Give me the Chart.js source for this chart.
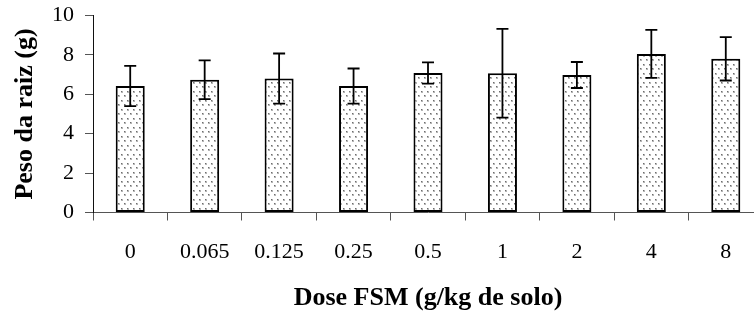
<!DOCTYPE html>
<html>
<head>
<meta charset="utf-8">
<script src="https://cdn.jsdelivr.net/npm/chart.js@4/dist/chart.umd.min.js"></script>
<style>
  html, body { margin: 0; padding: 0; background: #fff; overflow: hidden; width: 754px; height: 320px; }
  canvas { display: block; }
</style>
</head>
<body>
<canvas id="c" width="766" height="320"></canvas>
<script>
// ---- data ----
const categories = ['0', '0.065', '0.125', '0.25', '0.5', '1', '2', '4', '8'];
const rootWeight = [6.42, 6.74, 6.8, 6.42, 7.08, 7.07, 6.98, 8.05, 7.8];
const stdError   = [1.02, 0.98, 1.27, 0.89, 0.54, 2.25, 0.66, 1.22, 1.1];
const yTicks     = [0, 2, 4, 6, 8, 10];
const xTitle = 'Dose FSM (g/kg de solo)';
const yTitle = 'Peso da raiz (g)';

// dotted fill pattern
function makePattern() {
  const t = document.createElement('canvas');
  t.width = 6; t.height = 9;
  const g = t.getContext('2d');
  g.fillStyle = '#fff';
  g.fillRect(0, 0, 6, 9);
  g.fillStyle = 'rgba(120,120,120,0.55)';
  g.fillRect(1, 1, 2, 2);
  g.fillRect(4, 5, 2, 2);
  g.fillStyle = 'rgba(90,90,90,0.8)';
  g.fillRect(1, 1, 1, 1);
  g.fillRect(4, 5, 1, 1);
  return document.getElementById('c').getContext('2d').createPattern(t, 'repeat');
}

const errorBars = {
  id: 'errorBars',
  afterDatasetsDraw(chart) {
    const ctx = chart.ctx;
    const meta = chart.getDatasetMeta(0);
    const y = chart.scales.y;
    ctx.save();
    ctx.strokeStyle = '#000';
    ctx.lineWidth = 1.8;
    meta.data.forEach((bar, i) => {
      const x = bar.x;
      const hi = y.getPixelForValue(rootWeight[i] + stdError[i]);
      const lo = y.getPixelForValue(rootWeight[i] - stdError[i]);
      ctx.beginPath();
      ctx.moveTo(x, hi); ctx.lineTo(x, lo);
      ctx.moveTo(x - 6, hi); ctx.lineTo(x + 6, hi);
      ctx.moveTo(x - 6, lo); ctx.lineTo(x + 6, lo);
      ctx.stroke();
    });
    ctx.restore();
  }
};

const font = "'Liberation Serif', 'Times New Roman', serif";

new Chart(document.getElementById('c'), {
  type: 'bar',
  data: {
    labels: categories,
    datasets: [{
      data: rootWeight,
      backgroundColor: makePattern(),
      borderColor: '#000',
      borderWidth: 2,
      borderSkipped: false,
      barPercentage: 0.39,
      categoryPercentage: 1
    }]
  },
  options: {
    responsive: false,
    animation: false,
    events: [],
    layout: { padding: { top: 15.5, right: 3, bottom: 0, left: 0 } },
    plugins: { legend: { display: false }, tooltip: { enabled: false } },
    scales: {
      x: {
        offset: true,
        grid: { display: true, drawOnChartArea: false, offset: true, tickLength: 8, color: '#555', lineWidth: 1 },
        border: { display: true, color: '#555', width: 1 },
        ticks: { color: '#000', font: { family: font, size: 22 }, padding: 19, maxRotation: 0 },
        title: { display: true, text: xTitle, color: '#000', font: { family: font, size: 26, weight: 'bold' }, padding: { top: 0, bottom: 6.5 } },
        afterFit(s) { s.height = 107.5; }
      },
      y: {
        min: 0, max: 10,
        afterBuildTicks(s) { s.ticks = yTicks.map(v => ({ value: v })); },
        grid: { display: true, drawOnChartArea: false, tickLength: 8, color: '#555', lineWidth: 1 },
        border: { display: true, color: '#111', width: 1 },
        ticks: { color: '#000', font: { family: font, size: 22 }, padding: 11 },
        title: { display: true, text: yTitle, color: '#000', font: { family: font, size: 26, weight: 'bold' }, padding: { top: 10, bottom: 0 } },
        afterFit(s) { s.width = 93; s.paddingTop = 15.5; s.paddingBottom = 0; }
      }
    }
  },
  plugins: [errorBars]
});
</script>
</body>
</html>
